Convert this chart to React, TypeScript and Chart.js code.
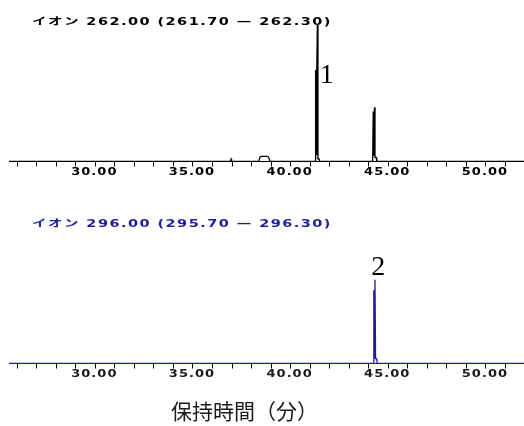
import { useEffect, useRef } from 'react';
import { Chart, registerables } from 'chart.js';

Chart.register(...registerables);

// ---- data ----
const axisMinMinute = 25.58;
const axisMaxMinute = 51.95;
const tickMinutes = [26, 27, 28, 29, 30, 31, 32, 33, 34, 35, 36, 37, 38, 39, 40, 41, 42, 43, 44, 45, 46, 47, 48, 49, 50, 51];
const labeledMinutes = [30, 35, 40, 45, 50];

const ion262Title = 'イオン 262.00 (261.70 — 262.30)';
const ion262Time = [25.58, 36.92, 36.95, 36.98, 38.36, 38.44, 38.5, 38.8, 38.87, 38.95, 41.25, 41.28, 41.31, 41.34, 41.37, 41.4, 41.45, 41.48, 44.2, 44.23, 44.26, 44.29, 44.32, 44.38, 44.41, 51.95];
const ion262Intensity = [0, 0, 1.6, 0, 0, 3.4, 3.8, 3.8, 3.2, 0, 0, 67, 5, 67, 100, 2, 2, 0, 0, 36.6, 4, 39.8, 3, 3, 0, 0];
const ion262Peaks = [{ text: '1', time: 41.85, level: 57.8 }];

const ion296Title = 'イオン 296.00 (295.70 — 296.30)';
const ion296Time = [25.58, 44.23, 44.26, 44.29, 44.32, 44.35, 44.4, 44.44, 51.95];
const ion296Intensity = [0, 0, 53.6, 4, 61.4, 3.5, 3.5, 0, 0];
const ion296Peaks = [{ text: '2', time: 44.49, level: 65.1 }];

const xAxisTitle = '保持時間（分）';

const BLACK = '#000000';
const BLUE = '#1e1e9c';

const chromText = {
  id: 'chromText',
  beforeDraw(chart: any) {
    const s: any = chart.scales.x;
    if (s && !s.__spaced) {
      const orig = s.drawLabels.bind(s);
      s.drawLabels = (area: any) => {
        const ctx: any = chart.ctx;
        const origFill = ctx.fillText;
        ctx.save();
        ctx.letterSpacing = '0.8px';
        ctx.fillText = function (text: string, x: number, y: number, maxWidth?: number) {
          ctx.save();
          ctx.translate(x - 1, y);
          ctx.scale(1.3, 1);
          origFill.call(ctx, text, 0, 0);
          ctx.restore();
        };
        try {
          orig(area);
        } finally {
          ctx.fillText = origFill;
          delete ctx.fillText;
          ctx.restore();
        }
      };
      s.__spaced = true;
    }
  },
  afterDraw(chart: any, _args: any, o: any) {
    const ctx: any = chart.ctx;
    const xs = chart.scales.x;
    const ys = chart.scales.y;
    ctx.save();
    ctx.fillStyle = o.titleColor;
    ctx.font = 'bold 10px "DejaVu Sans", "Noto Sans CJK JP"';
    ctx.letterSpacing = '1px';
    ctx.textAlign = 'left';
    ctx.textBaseline = 'alphabetic';
    ctx.translate(32, 25);
    ctx.scale(1.45, 1);
    ctx.fillText(o.title, 0, 0);
    ctx.restore();

    ctx.save();
    ctx.font = '28px "Liberation Serif", "DejaVu Serif", serif';
    ctx.fillStyle = '#000';
    ctx.textAlign = 'center';
    ctx.textBaseline = 'alphabetic';
    for (const p of o.peaks) {
      ctx.fillText(p.text, xs.getPixelForValue(p.time), ys.getPixelForValue(p.level));
    }
    if (o.axisTitle) {
      ctx.font = '21px "Noto Sans CJK JP"';
      ctx.fillStyle = '#1a1a1a';
      ctx.textAlign = 'left';
      ctx.textBaseline = 'middle';
      ctx.fillText(o.axisTitle, 171, 209);
    }
    ctx.restore();
  },
};

function makeConfig(times: number[], values: number[], color: string, tickLabelColor: string, axisHeight: number, plug: any): any {
  const points = times.map((t, i) => ({ x: t, y: values[i] }));
  return {
    type: 'line',
    data: {
      datasets: [
        {
          data: points,
          borderColor: color,
          borderWidth: 1.3,
          pointRadius: 0,
          tension: 0,
          fill: false,
        },
      ],
    },
    plugins: [chromText],
    options: {
      animation: false,
      responsive: false,
      events: [],
      layout: { padding: { left: 9, right: 0, top: 25, bottom: 0 } },
      plugins: {
        legend: { display: false },
        tooltip: { enabled: false },
        title: { display: false },
        chromText: plug,
      },
      scales: {
        x: {
          type: 'linear',
          min: axisMinMinute,
          max: axisMaxMinute,
          afterBuildTicks: (scale: any) => {
            scale.ticks = tickMinutes.map((v) => ({ value: v }));
          },
          afterFit: (scale: any) => {
            scale.height = axisHeight;
          },
          grid: {
            drawOnChartArea: false,
            drawTicks: true,
            tickLength: 5,
            tickColor: '#000',
            tickWidth: 1,
          },
          border: { display: true, color: color, width: 1 },
          ticks: {
            autoSkip: false,
            maxRotation: 0,
            padding: 0,
            color: tickLabelColor,
            font: { family: '"DejaVu Sans"', size: 10, weight: 'bold', lineHeight: 1.1 },
            callback: (v: any) => (labeledMinutes.includes(Number(v)) ? Number(v).toFixed(2) : ''),
          },
        },
        y: {
          display: false,
          min: 0,
          max: 100,
        },
      },
    },
  };
}

export default function App() {
  const topRef = useRef<HTMLCanvasElement>(null);
  const botRef = useRef<HTMLCanvasElement>(null);

  useEffect(() => {
    const top = new Chart(
      topRef.current as HTMLCanvasElement,
      makeConfig(ion262Time, ion262Intensity, BLACK, '#000', 201 - 161.5, {
        title: ion262Title,
        titleColor: BLACK,
        peaks: ion262Peaks,
      })
    );
    const bot = new Chart(
      botRef.current as HTMLCanvasElement,
      makeConfig(ion296Time, ion296Intensity, BLUE, '#1a1a1a', 224 - 161.5, {
        title: ion296Title,
        titleColor: BLUE,
        peaks: ion296Peaks,
        axisTitle: xAxisTitle,
      })
    );
    return () => {
      top.destroy();
      bot.destroy();
    };
  }, []);

  return (
    <div style={{ position: 'absolute', left: 0, top: 0, width: 524, height: 426, background: '#fff', overflow: 'hidden' }}>
      <canvas ref={topRef} width={524} height={201} style={{ position: 'absolute', left: 0, top: 0, display: 'block' }} />
      <canvas ref={botRef} width={524} height={224} style={{ position: 'absolute', left: 0, top: 202, display: 'block' }} />
    </div>
  );
}
